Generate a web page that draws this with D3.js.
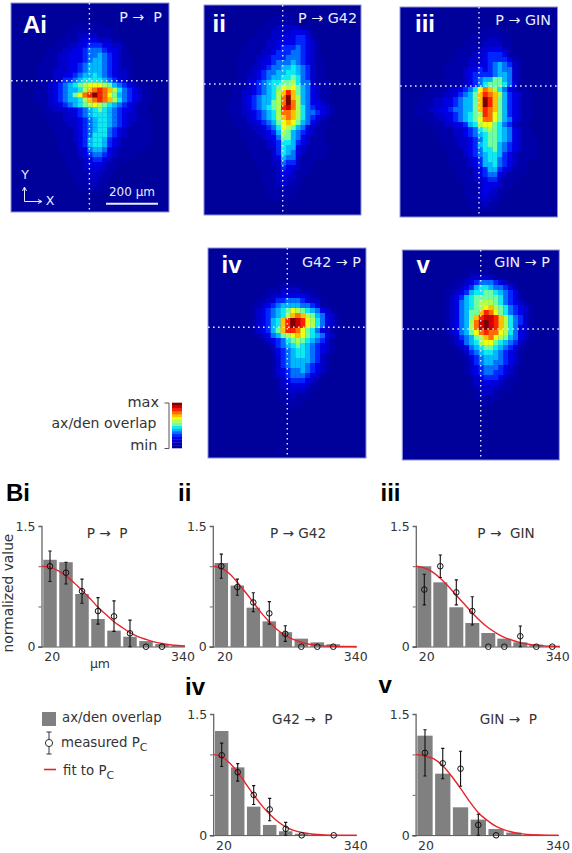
<!DOCTYPE html>
<html><head><meta charset="utf-8">
<script src="https://cdnjs.cloudflare.com/ajax/libs/d3/7.8.5/d3.min.js"></script>
<style>
html,body{margin:0;padding:0;background:#fff}
svg{display:block}
text{font-family:"DejaVu Sans",sans-serif;fill:#333}
</style></head><body><div id="chart"></div>
<script>
// ---------- heat map levels (hex digit per cell; blank = background) ----------
const heatAi=["","","","",
"00000000000001111110000000000000","00000000000011111111100000000000","00000000000111222211110000000000","00000000001111233322211000000000",
"00000000011122334443322100000000","00000000111223345554332100000000","00000001112233345565432110000000","00000001112233345665432110000000",
"00000011112233456665432110000000","00000011122233456665432210000000","00000011122334566765432210000000","00000011122445677776543211000000",
"0000001123456789aaa9865432110000","0000011123456679bcdcb97543211000","00000111234568acdfdca86543211000","0000011123456679bcdcb97543211000",
"00000011223456789a98765432110000","00000001122233456787654332110000","00000001111223456777654322110000","00000000111222345677654322111000",
"00000000111122345677654321111000","00000000011112345677543211111000","00000000011112345777543211111000","00000000001112346776432111111000",
"00000000001111346776432111110000","00000000001111235665321111100000","00000000000111234554321111000000","00000000000111123443211100000000",
"00000000000011123332110000000000","00000000000011122322110000000000","00000000000001112221100000000000","00000000000001112211000000000000",
"00000000000000111211000000000000","00000000000000011110000000000000"];
const heatB=["","",
"0000000000000011110000000000000","0000000000000111111000000000000","0000000000001112222211000000000","0000000000011122223332100000000",
"0000000000111122333443100000000","0000000001111223333443210000000","0000000011111223444543210000000","0000000011112234445543210000000",
"0000000111122344455543210000000","0000000111123345556543211000000","0000000111223455667654211000000","0000000111234556677654211000000",
"0000000112234566778754211000000","0000000112345677889755211100000","0000001112345678a9a865321100000","0000001122345679bdb865321100000",
"0000001123456679cfb965321100000","0000011123456689cfc965332100000","0000011123456789dec975433210000","0000011122345679ccb975543210000",
"0000001112345679bcb975432100000","0000001112234568aba865321100000","0000000111223457a98653211000000","0000000011122346986543211000000",
"0000000011112335886532111000000","0000000001111234776432111000000","0000000001111224766321111100000","0000000000111124765321111000000",
"0000000000111123655211111000000","0000000000011122544211100000000","0000000000011112433211000000000","0000000000001112332111000000000",
"0000000000001112322110000000000","0000000000001112221100000000000","0000000000000111211100000000000","0000000000000111111000000000000","0000000000000011110000000000000"];
const heatC=["","","","",
"00000000000000000111000000000000","00000000000000011111110000000000","00000000000000111122111000000000","00000000000001111222211000000000",
"00000000000011112233321000000000","00000000000111122344431100000000","00000000000111222344443110000000","00000000011111223345654210000000",
"00000000011112334345655210000000","00000000011112344445665210000000","00000000001112345668865210000000","00000000011112345788875310000000",
"0000001111223457acb9753211000000","0000011112234568bdcb964321100000","0000111223345668bfdb864321100000","0000111223345668bfdb864321100000",
"0001112233455668bdcb864321100000","00011112233456789dca864321100000","0000011122345678acca865321100000","00000011122334679aa8754211000000",
"00000001111223457898765321100000","00000000111223456788765321100000","00000000111122345788765321110000","00000000011122346788654321110000",
"00000000001112345778654321110000","00000000001112345677643211110000","00000000001111234677543211100000","00000000000111234667543211000000",
"00000000000111123466432111000000","00000000000011123455321110000000","00000000000011122344211100000000","00000000000001112333211000000000",
"00000000000001112332110000000000","00000000000001112322110000000000","00000000000000112221100000000000","00000000000000111211000000000000",
"00000000000000011110000000000000"];
const heatD=["","","","","","","",
"00000000000000111110000000000000","00000000000011122221110000000000","00000000000112233333211000000000","00000000001122445554322100000000",
"00000000011234566665543110000000","00000000012345678a98765321000000","00000000012345679bcb986532100000","000000000123467bdfeda97532100000",
"000000000123467bdfeda97532100000","000000000123468bddca875321000000","00000000001235689aba876532100000","00000000000123457898765421000000",
"00000000000012456787654321000000","00000000000001345677654321000000","00000000000001345677654210000000","00000000000001245666654210000000",
"00000000000001245666543210000000","00000000000001234556543210000000","00000000000001234555432100000000","00000000000000123444321000000000",
"00000000000000122333211000000000","00000000000000112222110000000000","00000000000000011211100000000000","00000000000000011111000000000000",
"00000000000000001110000000000000"];
const heatE=["","","","",
"00000000000000111100000000000000","00000000000011222221000000000000","00000000000112345554321100000000","00000000001123467765543100000000",
"00000000011234677887654310000000","00000000012346788888754310000000","00000000012356789998754321000000","00000000012356789ab9875432100000",
"0000000001235688bdca875432100000","000000000123568bdeedb97542100000","000000000123569cefedb97542100000","000000000123569cefedb97532100000",
"000000000123568acdcca97532100000","00000000001245689bca986532100000","00000000001235679aa8765421000000","00000000000123567887654310000000",
"00000000000012456776543210000000","00000000000001345666543210000000","00000000000001245665543210000000","00000000000001234555432100000000",
"00000000000001234554432100000000","00000000000000123444321100000000","00000000000000122333211000000000","00000000000000112222111000000000",
"00000000000000012221100000000000","00000000000000011111000000000000","00000000000000001110000000000000"];
const jetColors=["#00009a","#0000aa","#0000c8","#0000e6","#0028ff","#0070ff","#00b8ff","#10eaf0","#70ffa0","#b0ff50","#f0ff10","#ffc000","#ff7000","#ff2000","#d00000","#800000"];

// ---------- bar panels ----------
const distances=[20,60,100,140,180,220,260,300,340];
const fitX=[0,20,40,60,80,100,120,140,160,180,200,220,240,260,280,300,320,340,360];
const overlapBi=[1.08,1.05,.655,.344,.2,.124,.07,.033,.012];
const measuredBi=[1,.92,.69,.443,.377,.166,0,0,null];
const lowBi=[.81,.78,.54,.28,.19,0,null,null,null];
const highBi=[1.19,1.05,.84,.61,.57,.33,null,null,null];
const fitBi=[1,.985,.945,.88,.795,.7,.6,.49,.4,.31,.24,.175,.125,.09,.06,.04,.025,.015,.01];
const overlapBii=[1.04,.76,.485,.315,.18,.1,.054,.03,.012];
const measuredBii=[1,.74,.55,.414,.16,0,0,0,null];
const lowBii=[.85,.64,.435,.28,.066,null,null,null,null];
const highBii=[1.15,.84,.67,.56,.26,null,null,null,null];
const fitBii=[1,.975,.91,.8,.68,.55,.42,.31,.21,.14,.09,.055,.03,.017,.009,.004,.002,.001,0];
const overlapBiii=[1,.8,.49,.295,.17,.1,.054,.025,.01];
const measuredBiii=[.71,1,.675,.443,0,0,.13,0,0];
const lowBiii=[.52,.86,.52,.27,null,null,0,null,null];
const highBiii=[.9,1.14,.83,.62,null,null,.257,null,null];
const fitBiii=[1,.98,.93,.85,.75,.64,.53,.42,.32,.235,.17,.115,.08,.05,.03,.018,.01,.006,.003];
const overlapBiv=[1.29,.84,.354,.128,.05,.02,.008,0,0];
const measuredBiv=[.99,.78,.5,.32,.08,0,null,0,null];
const lowBiv=[.85,.67,.38,.18,0,null,null,null,null];
const highBiv=[1.14,.886,.614,.457,.16,null,null,null,null];
const fitBiv=[1,.97,.895,.78,.64,.5,.37,.26,.17,.105,.06,.035,.02,.01,.005,.002,.001,0,0];
const overlapBv=[1.232,.762,.346,.194,.078,.033,.012,0,0];
const measuredBv=[1.02,.89,.824,.128,0,null,null,null,null];
const lowBv=[.733,.7,.606,0,null,null,null,null,null];
const highBv=[1.306,1.075,1.04,.26,null,null,null,null,null];
const fitBv=[1,.98,.945,.86,.73,.58,.42,.28,.185,.11,.065,.035,.018,.008,.003,.001,0];
const yTickValues=[0,.5,1,1.5];

// ---------- layout ----------
const W=572,H=853;
const svg=d3.select("#chart").append("svg").attr("width",W).attr("height",H);
const defs=svg.append("defs");
defs.append("filter").attr("id","soft").attr("x","-5%").attr("y","-5%").attr("width","110%").attr("height","110%")
  .append("feGaussianBlur").attr("stdDeviation",.5);

const color=d3.scaleOrdinal().domain(d3.range(16)).range(jetColors);
const heatPanels=[
 {id:"a",rows:heatAi,x:11,y:3,w:158,h:209,shift:-2.5,vx:89.4,hy:80.7,label:"Ai",lx:23,ly:32.5,title:"P →\u00a0\u00a0P",tx:162,ty:22},
 {id:"b",rows:heatB,x:204,y:5,w:157,h:210,shift:-1.5,vx:282.7,hy:84,label:"ii",lx:212.5,ly:32,title:"P →\u00a0G42",tx:357,ty:23},
 {id:"c",rows:heatC,x:400,y:7,w:157.5,h:210,shift:-1,vx:479,hy:86,label:"iii",lx:415,ly:32,title:"P → GIN",tx:551,ty:25},
 {id:"d",rows:heatD,x:208,y:248,w:158,h:210,shift:-1.5,vx:287.3,hy:327.3,label:"iv",lx:221.5,ly:273,title:"G42 → P",tx:361,ty:267},
 {id:"e",rows:heatE,x:402.3,y:250,w:157,h:210,shift:-2,vx:480.7,hy:329,label:"v",lx:416.5,ly:273,title:"GIN → P",tx:550,ty:267}
];
heatPanels.forEach(p=>{
  defs.append("clipPath").attr("id","clip-"+p.id).append("rect").attr("x",p.x).attr("y",p.y).attr("width",p.w).attr("height",p.h);
  const g=svg.append("g");
  const clipG=g.append("g").attr("clip-path",`url(#clip-${p.id})`);
  clipG.append("rect").attr("x",p.x).attr("y",p.y).attr("width",p.w).attr("height",p.h).attr("fill",jetColors[0]);
  const cx=d3.scaleBand().domain(d3.range(32)).range([p.x+p.shift,p.x+p.shift+p.w]);
  const cy=d3.scaleBand().domain(d3.range(42)).range([p.y,p.y+p.h]);
  const cells=[];
  p.rows.forEach((s,r)=>{for(let c=0;c<32;c++){const v=parseInt(s.charAt(c)||"0",16);if(v>0)cells.push({r,c,v});}});
  clipG.append("g").attr("filter","url(#soft)").selectAll("rect").data(cells).join("rect")
    .attr("x",d=>cx(d.c)).attr("y",d=>cy(d.r)).attr("width",cx.bandwidth()+.3).attr("height",cy.bandwidth()+.3)
    .attr("fill",d=>color(d.v));
  g.append("rect").attr("x",p.x).attr("y",p.y).attr("width",p.w).attr("height",p.h).attr("fill","none").attr("stroke","#8b90d8").attr("stroke-width",1);
  const dash={stroke:"#e4e8ff","stroke-width":1.4,"stroke-dasharray":"1.6 3.4"};
  const vl=g.append("line").attr("x1",p.vx).attr("x2",p.vx).attr("y1",p.y).attr("y2",p.y+p.h);
  const hl=g.append("line").attr("x1",p.x).attr("x2",p.x+p.w).attr("y1",p.hy).attr("y2",p.hy);
  [vl,hl].forEach(l=>Object.entries(dash).forEach(([k,v])=>l.attr(k,v)));
  g.append("text").attr("x",p.lx).attr("y",p.ly).text(p.label)
   .style("font-family","'Liberation Sans',sans-serif").style("font-weight","bold").style("font-size","24px").style("fill","#fff");
  g.append("text").attr("x",p.tx).attr("y",p.ty).attr("text-anchor","end").text(p.title)
   .style("font-size","14.3px").style("fill","#e8ecff");
});

// scale bar and axes arrows in Ai
const ai=svg.append("g");
ai.append("line").attr("x1",106).attr("x2",158).attr("y1",203.7).attr("y2",203.7).attr("stroke","#e8ecff").attr("stroke-width",2);
ai.append("text").attr("x",132).attr("y",196).attr("text-anchor","middle").text("200 µm").style("font-size","12px").style("fill","#e8ecff");
ai.append("path").attr("d","M24.5,188V201.5H41M22.5,191L24.5,187L26.5,191M38,199.5L42,201.5L38,203.5").attr("fill","none").attr("stroke","#e8ecff").attr("stroke-width",1);
ai.append("text").attr("x",25).attr("y",179).attr("text-anchor","middle").text("Y").style("font-size","12.5px").style("fill","#e8ecff");
ai.append("text").attr("x",50).attr("y",205).attr("text-anchor","middle").text("X").style("font-size","12.5px").style("fill","#e8ecff");

// colour bar
const bar=svg.append("g");
const by=d3.scaleBand().domain(d3.range(16).reverse()).range([402.7,448]);
bar.selectAll("rect").data(d3.range(16)).join("rect").attr("x",172).attr("width",10).attr("y",d=>by(d)).attr("height",by.bandwidth()+.3).attr("fill",d=>color(d));
bar.append("path").attr("d","M164.5,403H169V448.5H164.5").attr("fill","none").attr("stroke","#555").attr("stroke-width",1);
bar.append("text").attr("x",159).attr("y",407).attr("text-anchor","end").text("max").style("font-size","14.5px");
bar.append("text").attr("x",156.5).attr("y",428).attr("text-anchor","end").text("ax/den overlap").style("font-size","14px");
bar.append("text").attr("x",157.5).attr("y",450).attr("text-anchor","end").text("min").style("font-size","14.5px");

// bar panels
const barPanels=[
 {over:overlapBi,meas:measuredBi,lo:lowBi,hi:highBi,fit:fitBi,x0:42,x340:178,bw:13.5,y0:646.7,y15:526,title:"P →\u00a0\u00a0P",tc:107,ty:538,l20:52.3,l340:183,end:185,letter:"Bi",lx:6,ly:501},
 {over:overlapBii,meas:measuredBii,lo:lowBii,hi:highBii,fit:fitBii,x0:213.3,x340:349.3,bw:13.5,y0:646.7,y15:526,title:"P → G42",tc:298,ty:538,l20:225,l340:355.7,end:356.7,letter:"ii",lx:178,ly:501},
 {over:overlapBiii,meas:measuredBiii,lo:lowBiii,hi:highBiii,fit:fitBiii,x0:416.3,x340:552.3,bw:14,y0:646.7,y15:526,title:"P →\u00a0\u00a0GIN",tc:506,ty:538,l20:426.7,l340:557.7,end:560,letter:"iii",lx:380.5,ly:501},
 {over:overlapBiv,meas:measuredBiv,lo:lowBiv,hi:highBiv,fit:fitBiv,x0:213.7,x340:349.7,bw:13.5,y0:835.3,y15:714,title:"G42 →\u00a0\u00a0P",tc:302.3,ty:723.5,l20:224,l340:355.7,end:356.7,letter:"iv",lx:185,ly:695},
 {over:overlapBv,meas:measuredBv,lo:lowBv,hi:highBv,fit:fitBv,x0:416.1,x340:567.2,bw:15.3,y0:835.3,y15:714,title:"GIN →\u00a0\u00a0P",tc:508.3,ty:723.5,l20:426,l340:558,end:559,letter:"v",lx:378.5,ly:693}
];
barPanels.forEach(p=>{
  const g=svg.append("g");
  const x=d3.scaleLinear().domain([0,340]).range([p.x0,p.x340]);
  const y=d3.scaleLinear().domain([0,1.5]).range([p.y0,p.y15]);
  g.selectAll("rect.bar").data(p.over.map((v,i)=>({v,d:distances[i]})).filter(d=>d.v>0)).join("rect")
    .attr("class","bar").attr("x",d=>x(d.d)-p.bw/2).attr("width",p.bw).attr("y",d=>y(d.v)).attr("height",d=>y(0)-y(d.v)).attr("fill","#808080");
  const axisG=g.append("g").attr("transform",`translate(${p.x0-.5},0)`)
    .call(d3.axisLeft(y).tickValues(yTickValues).tickSize(3).tickPadding(3).tickFormat(d=>d===0?"0":d===1.5?"1.5":""));
  axisG.selectAll(".domain").attr("stroke","#666").attr("stroke-width",1.3);
  axisG.selectAll(".tick line").attr("stroke","#666");
  axisG.selectAll("text").style("font-family","'DejaVu Sans',sans-serif").style("font-size","12.5px").style("fill","#333");
  g.append("line").attr("x1",p.x0-4).attr("x2",p.end).attr("y1",p.y0+.3).attr("y2",p.y0+.3).attr("stroke","#555").attr("stroke-width",1);
  const line=d3.line().x((d,i)=>Math.min(x(fitX[i]),p.end)).y(d=>y(d)).curve(d3.curveMonotoneX);
  g.append("path").attr("d",line(p.fit)).attr("fill","none").attr("stroke","#e5242a").attr("stroke-width",1.4);
  p.meas.forEach((m,i)=>{
    if(m===null)return;
    const cx=x(distances[i]);
    if(p.lo[i]!==null){
      const a=y(p.lo[i]),b=y(p.hi[i]);
      g.append("path").attr("d",`M${cx},${a}V${b}M${cx-1.6},${a}H${cx+1.6}M${cx-1.6},${b}H${cx+1.6}`).attr("stroke","#111").attr("stroke-width",1.1).attr("fill","none");
    }
    g.append("circle").attr("cx",cx).attr("cy",y(m)).attr("r",2.8).attr("fill","none").attr("stroke","#111").attr("stroke-width",1);
  });
  g.append("text").attr("x",p.tc).attr("y",p.ty).attr("text-anchor","middle").text(p.title).style("font-size","13.6px");
  g.append("text").attr("x",p.l20).attr("y",p.y0+14.5).attr("text-anchor","middle").text(distances[0]).style("font-size","12.5px");
  g.append("text").attr("x",p.l340).attr("y",p.y0+14.5).attr("text-anchor","middle").text(distances[distances.length-1]).style("font-size","12.5px");
  g.append("text").attr("x",p.lx).attr("y",p.ly).text(p.letter).style("font-family","'Liberation Sans',sans-serif").style("font-weight","bold").style("font-size","24px").style("fill","#000");
});
svg.append("text").attr("transform","translate(13,593) rotate(-90)").attr("text-anchor","middle").text("normalized value").style("font-size","13.8px");
svg.append("text").attr("x",100).attr("y",668).attr("text-anchor","middle").text("µm").style("font-size","12.5px");

// legend
const lg=svg.append("g");
lg.append("rect").attr("x",42).attr("y",712).attr("width",14).attr("height",14).attr("fill","#808080");
lg.append("text").attr("x",62).attr("y",722).text("ax/den overlap").style("font-size","13.3px");
lg.append("path").attr("d","M49,732V754M46.5,732H51.5M46.5,754H51.5").attr("stroke","#333").attr("fill","none");
lg.append("circle").attr("cx",49).attr("cy",743).attr("r",3.6).attr("fill","#fff").attr("stroke","#333");
const m=lg.append("text").attr("x",61).attr("y",747).style("font-size","13.3px");
m.append("tspan").text("measured P");m.append("tspan").attr("dy",3.5).style("font-size","11px").text("C");
lg.append("line").attr("x1",44).attr("x2",56).attr("y1",769.5).attr("y2",769.5).attr("stroke","#e5242a").attr("stroke-width",1.6);
const f=lg.append("text").attr("x",63).attr("y",775).style("font-size","13.3px");
f.append("tspan").text("fit to P");f.append("tspan").attr("dy",3.5).style("font-size","11px").text("C");
</script></body></html>
